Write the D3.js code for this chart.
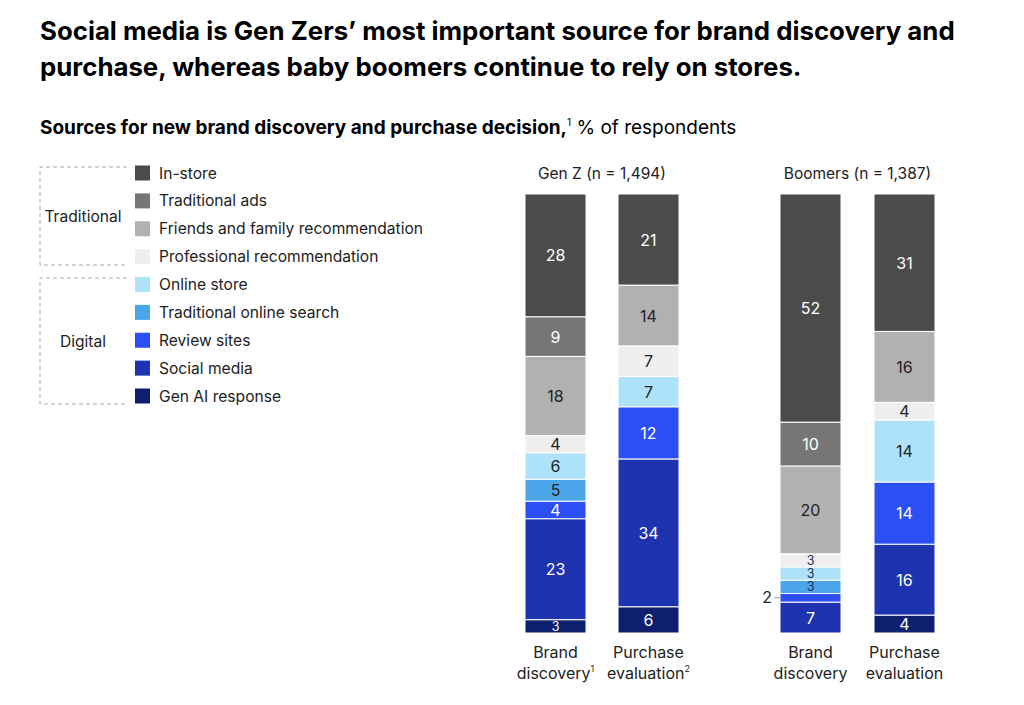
<!DOCTYPE html>
<html><head><meta charset="utf-8">
<script src="https://cdn.jsdelivr.net/npm/d3@7"></script>
<style>
body{margin:0;background:#fff;}
svg{font-family:Inter,"Noto Sans",sans-serif;}
</style></head>
<body>
<svg id="c" width="1024" height="705"></svg>
<script>
const categories = ["In-store","Traditional ads","Friends and family recommendation","Professional recommendation","Online store","Traditional online search","Review sites","Social media","Gen AI response"];
const colors = ["#4b4b4b","#767676","#b1b1b1","#efefef","#ade2f9","#4ba6e9","#2c4ff3","#1e33b0","#0e1f6f"];
const darkText = [false,false,true,true,true,true,false,false,false];
const groupNames = ["Gen Z (n = 1,494)","Boomers (n = 1,387)"];
const barNames = ["Gen Z brand discovery","Gen Z purchase evaluation","Boomers brand discovery","Boomers purchase evaluation"];
const barLabels = [["Brand","discovery","1"],["Purchase","evaluation","2"],["Brand","discovery",""],["Purchase","evaluation",""]];
const genZBrand    = [28, 9, 18, 4, 6, 5, 4, 23, 3];
const genZPurchase = [21, 0, 14, 7, 7, 0, 12, 34, 6];
const boomBrand    = [52, 10, 20, 3, 3, 3, 2, 7, 0];
const boomPurchase = [31, 0, 16, 4, 14, 0, 14, 16, 4];
const series = [genZBrand, genZPurchase, boomBrand, boomPurchase];

const svg = d3.select("#c");

// Title
const title = svg.append("text").attr("x",40).attr("font-weight",700).attr("font-size",25.8).attr("fill","#000");
title.append("tspan").attr("x",40).attr("y",40).text("Social media is Gen Zers’ most important source for brand discovery and");
title.append("tspan").attr("x",40).attr("y",76).text("purchase, whereas baby boomers continue to rely on stores.");

const sub = svg.append("text").attr("x",40).attr("y",134).attr("font-size",19).attr("fill","#000");
sub.append("tspan").attr("font-weight",700).text("Sources for new brand discovery and purchase decision,");
sub.append("tspan").attr("font-size",10).attr("dy",-8).text("1");
sub.append("tspan").attr("dy",8).text(" % of respondents");

// Legend
const lg = svg.append("g");
const rowY = d3.scalePoint().domain(categories).range([173,396]);
categories.forEach((c,i)=>{
  const yy = rowY(c);
  lg.append("rect").attr("x",135).attr("y",yy-7.5).attr("width",15).attr("height",15).attr("fill",colors[i]);
  lg.append("text").attr("x",159).attr("y",yy+5.5).attr("font-size",15.6).attr("fill","#222").text(c);
});
function bracket(y0,y1,label){
  lg.append("path").attr("d",`M127,${y0} H40 V${y1} H127`).attr("fill","none").attr("stroke","#aaa").attr("stroke-dasharray","4,3").attr("stroke-width",1);
  lg.append("text").attr("x",83).attr("y",(y0+y1)/2+5.5).attr("text-anchor","middle").attr("font-size",15.6).attr("fill","#222").text(label);
}
bracket(167,265,"Traditional");
bracket(278,404,"Digital");

// Bars
const x = d3.scaleOrdinal().domain(barNames).range([525,618,780,874]);
const barW = 61;
const y = d3.scaleLinear().domain([0,1]).range([194,633]);
const table = barNames.map((b,bi)=>{ const o={bar:b}; categories.forEach((c,ci)=>o[c]=series[bi][ci]); return o;});
const stack = d3.stack().keys(categories).offset(d3.stackOffsetExpand);
const layers = stack(table);

const gBars = svg.append("g");
layers.forEach((layer,ci)=>{
  layer.forEach((d,bi)=>{
    const v = series[bi][ci];
    if(!v) return;
    const bx = x(barNames[bi]);
    const yTop = y(d[0]), yBot = y(d[1]);
    const h = yBot-yTop;
    gBars.append("rect").attr("x",bx).attr("y",yTop).attr("width",barW).attr("height",Math.max(0,h))
      .attr("fill",colors[ci]).attr("stroke","#fff").attr("stroke-width",1);
    const cy = (yTop+yBot)/2;
    if(h < 11){
      gBars.append("line").attr("x1",bx-6).attr("x2",bx).attr("y1",cy).attr("y2",cy).attr("stroke","#999");
      gBars.append("text").attr("x",bx-8).attr("y",cy+5.5).attr("text-anchor","end").attr("font-size",16).attr("fill","#222").text(v);
    } else if(h < 16){
      gBars.append("text").attr("x",bx+barW/2).attr("y",cy+4.5).attr("text-anchor","middle")
        .attr("font-size",12.5).attr("fill",darkText[ci]?"#1c2c5a":"#fff").text(v);
    } else {
      gBars.append("text").attr("x",bx+barW/2).attr("y",cy+6).attr("text-anchor","middle")
        .attr("font-size",16).attr("fill",darkText[ci]?"#222":"#fff").text(v);
    }
  });
});

// group headings
svg.append("text").attr("x",(x(barNames[0])+x(barNames[1])+barW)/2).attr("y",179).attr("text-anchor","middle").attr("font-size",15.5).attr("fill","#222").text(groupNames[0]);
svg.append("text").attr("x",(x(barNames[2])+x(barNames[3])+barW)/2).attr("y",179).attr("text-anchor","middle").attr("font-size",15.5).attr("fill","#222").text(groupNames[1]);

// bar labels
barNames.forEach((b,i)=>{
  const cx = x(b)+barW/2;
  svg.append("text").attr("x",cx).attr("y",658).attr("text-anchor","middle").attr("font-size",16).attr("fill","#222").text(barLabels[i][0]);
  const t2 = svg.append("text").attr("x",cx).attr("y",679).attr("text-anchor","middle").attr("font-size",16).attr("fill","#222");
  t2.append("tspan").text(barLabels[i][1]);
  if(barLabels[i][2]) t2.append("tspan").attr("font-size",9).attr("dy",-7).text(barLabels[i][2]);
});
</script>
</body></html>
